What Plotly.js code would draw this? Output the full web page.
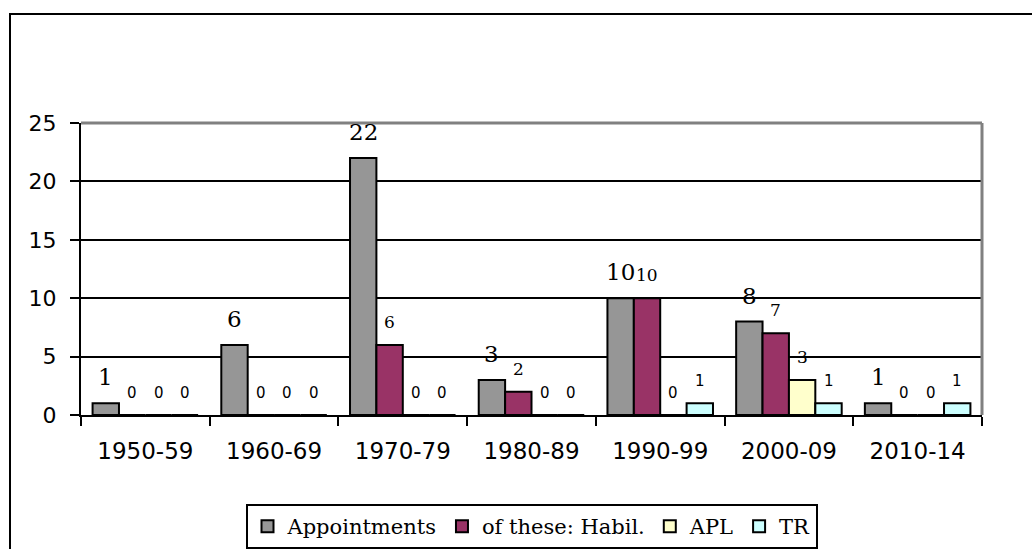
<!DOCTYPE html>
<html>
<head>
<meta charset="utf-8">
<script src="https://cdn.plot.ly/plotly-3.0.1.min.js"></script>
<style>
  html, body { margin: 0; padding: 0; background: #ffffff; }
  #chart { width: 1032px; height: 549px; }
</style>
</head>
<body>
<div id="chart"></div>
<script>
const categories = ['1950-59', '1960-69', '1970-79', '1980-89', '1990-99', '2000-09', '2010-14'];
const appointments = [1, 6, 22, 3, 10, 8, 1];
const habil = [0, 0, 6, 2, 10, 7, 0];
const apl = [0, 0, 0, 0, 0, 3, 0];
const tr = [0, 0, 0, 0, 1, 1, 1];
const seriesNames = ['Appointments', 'of these: Habil.', 'APL', 'TR'];
const yTicks = [0, 5, 10, 15, 20, 25];

const W = 1032, H = 549;
const M = { l: 81, r: 50, t: 123, b: 0 };
const plotW = W - M.l - M.r, plotH = H - M.t - M.b;
const axisBottomPx = 415;
const bargap = 0.18;

const seriesVals = [appointments, habil, apl, tr];
const colors = ['#969696', '#993366', '#FFFFCC', '#CCFFFF'];

const traces = seriesVals.map((vals, i) => ({
  type: 'bar',
  name: seriesNames[i],
  x: categories,
  y: vals,
  marker: { color: colors[i], line: { color: '#000000', width: 2 } },
  hoverinfo: 'x+y+name'
}));

const SERIF = 'DejaVu Serif, serif';
const SANS = 'DejaVu Sans, sans-serif';
function labelFont(i, v) {
  if (i === 0) return { family: SERIF, size: 23, color: '#000' };
  if (i === 3) return { family: SANS, size: 15, color: '#000' };
  if (v === 0) return { family: SANS, size: 15, color: '#000' };
  return { family: SERIF, size: 17, color: '#000' };
}

const groupW = plotW / categories.length;
const barW = groupW * (1 - bargap) / seriesVals.length;
const annotations = [];
seriesVals.forEach((vals, i) => {
  vals.forEach((v, j) => {
    annotations.push({
      x: categories[j], y: v, xref: 'x', yref: 'y',
      text: String(v), showarrow: false,
      xanchor: 'center', yanchor: 'bottom',
      xshift: (i - (seriesVals.length - 1) / 2) * barW,
      yshift: 11,
      font: labelFont(i, v)
    });
  });
});

const px2x = p => (p - M.l) / plotW;
const px2y = p => (H - M.b - p) / plotH;

const layout = {
  width: W, height: H,
  margin: M,
  paper_bgcolor: '#ffffff',
  plot_bgcolor: '#ffffff',
  barmode: 'group',
  bargap: bargap,
  bargroupgap: 0,
  showlegend: true,
  legend: {
    orientation: 'h',
    x: 0.5, xanchor: 'center',
    y: px2y(504), yanchor: 'top',
    bordercolor: '#000000', borderwidth: 2,
    font: { family: SERIF, size: 21, color: '#000' },
    traceorder: 'normal'
  },
  xaxis: {
    type: 'category',
    anchor: 'y',
    showgrid: false,
    showline: true, linecolor: '#000000', linewidth: 2,
    ticks: 'outside', ticklen: 9, tickwidth: 2, tickcolor: '#000000',
    tickson: 'boundaries',
    ticklabelstandoff: 14,
    tickfont: { family: SANS, size: 23, color: '#000' },
    zeroline: false, fixedrange: true
  },
  yaxis: {
    domain: [px2y(axisBottomPx), 1],
    range: [0, 25],
    tickvals: yTicks,
    ticktext: yTicks.map(String),
    showgrid: true, gridcolor: '#000000', gridwidth: 2,
    showline: true, linecolor: '#000000', linewidth: 2,
    ticks: 'outside', ticklen: 9, tickwidth: 2, tickcolor: '#000000',
    ticklabelstandoff: 9,
    tickfont: { family: SANS, size: 22, color: '#000' },
    zeroline: false, fixedrange: true
  },
  annotations: annotations,
  shapes: [
    { type: 'line', xref: 'x domain', yref: 'y domain', x0: 0, x1: 1, y0: 1, y1: 1,
      line: { color: '#808080', width: 3 }, layer: 'above' },
    { type: 'line', xref: 'x domain', yref: 'y domain', x0: 1, x1: 1, y0: 0, y1: 1,
      line: { color: '#808080', width: 3 }, layer: 'above' },
    { type: 'rect', xref: 'paper', yref: 'paper',
      x0: px2x(10), x1: px2x(1045), y0: px2y(600), y1: px2y(14),
      line: { color: '#000000', width: 2 }, fillcolor: 'rgba(0,0,0,0)', layer: 'below' }
  ]
};

Plotly.newPlot('chart', traces, layout, { displayModeBar: false, staticPlot: true });
</script>
</body>
</html>
